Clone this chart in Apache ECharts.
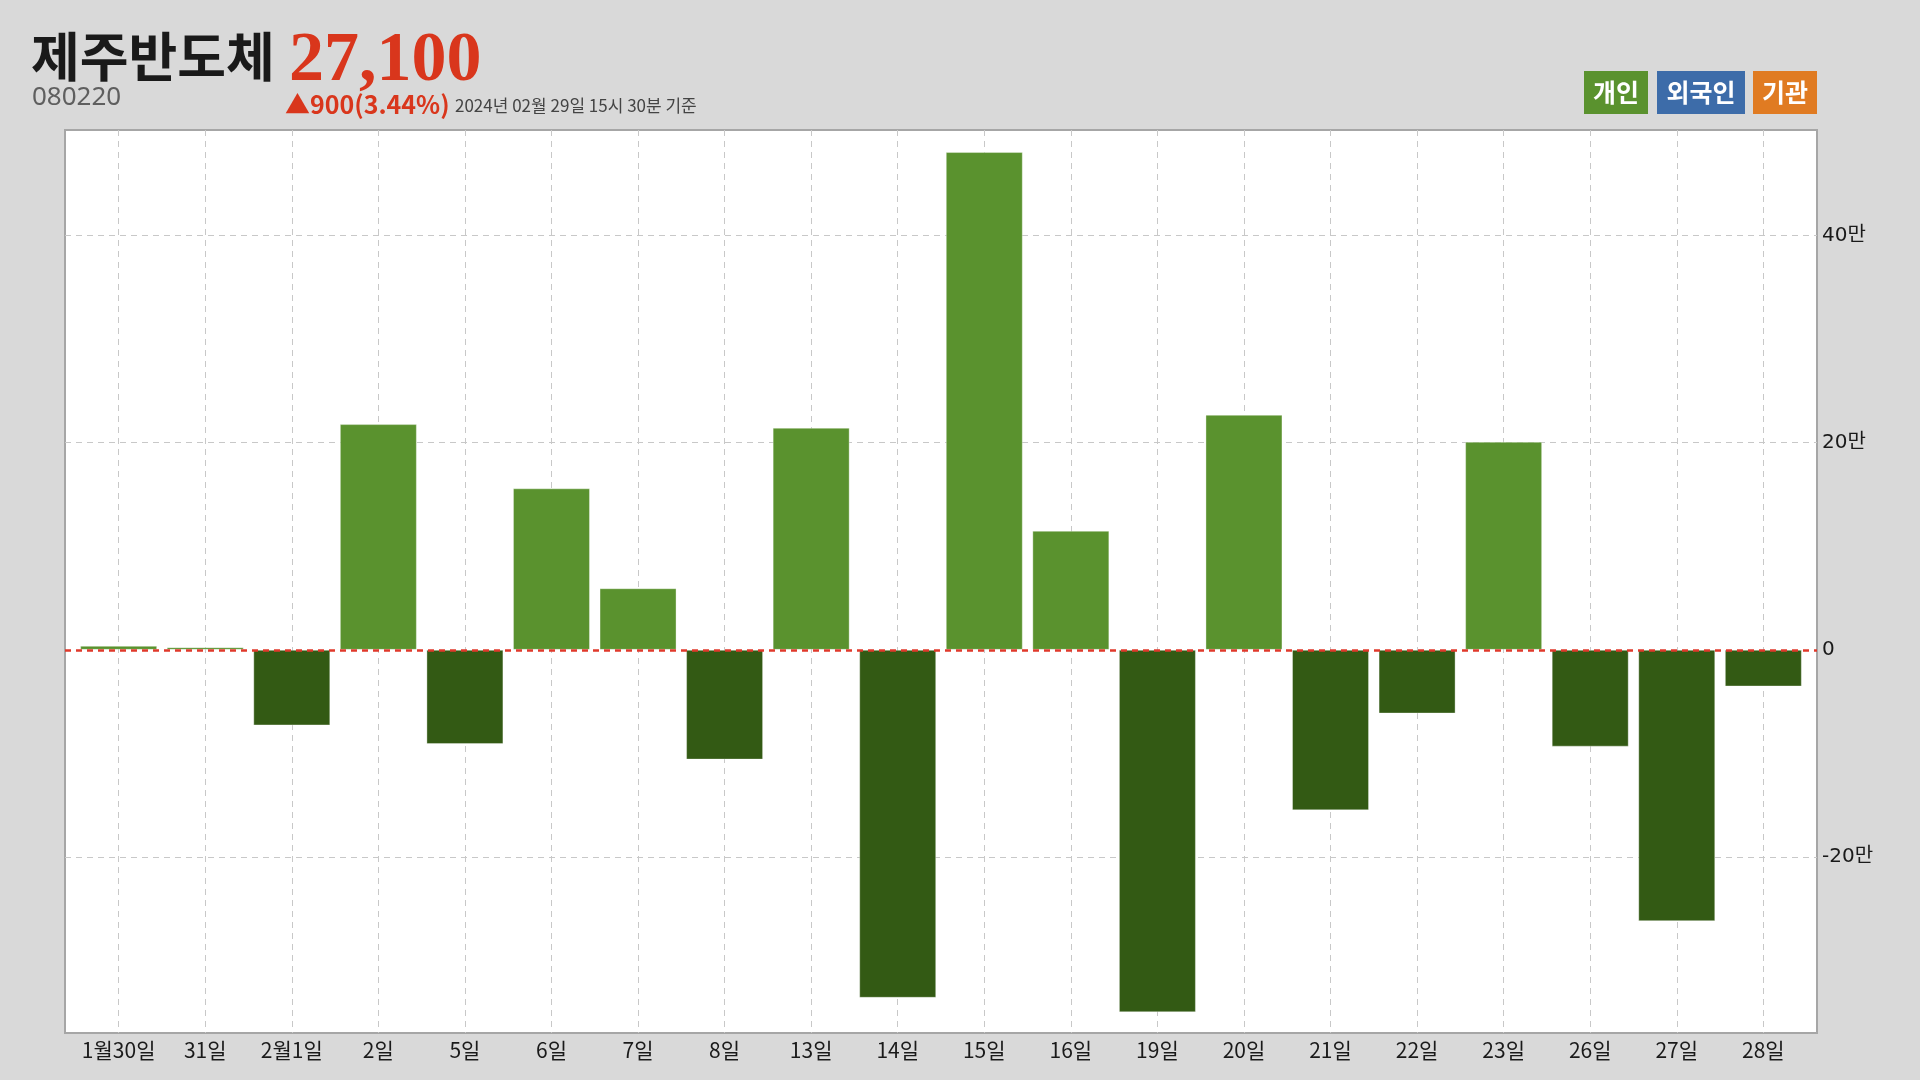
<!DOCTYPE html>
<html>
<head>
<meta charset="utf-8">
<script src="https://cdn.jsdelivr.net/npm/echarts@6/dist/echarts.min.js"></script>
<style>
html,body{margin:0;padding:0;background:#d9d9d9;}
#c{width:1920px;height:1080px;}
</style>
</head>
<body>
<div id="c"></div>
<script>
const categories = ['1월30일','31일','2월1일','2일','5일','6일','7일','8일','13일','14일','15일','16일','19일','20일','21일','22일','23일','26일','27일','28일'];
const individualNet = [3900, 2600, -73000, 218000, -91000, 156000, 59500, -106000, 214500, -336000, 480700, 115000, -350000, 227000, -155000, -61500, 201000, -93500, -262000, -35400];
const yTickValues = [-200000, 0, 200000, 400000];
const legendNames = ['개인', '외국인', '기관'];
const stockName = '제주반도체';
const stockCode = '080220';
const price = '27,100';
const change = '▲900(3.44%)';
const asOf = '2024년 02월 29일 15시 30분 기준';

const POS = '#5a922e', NEG = '#335a14';
const chart = echarts.init(document.getElementById('c'));
const xIdx = categories.map((_, i) => i);

const legendBoxes = [
  {x: 1584, w: 64, color: '#5a922e'},
  {x: 1657, w: 88, color: '#3d6ca9'},
  {x: 1753, w: 64, color: '#e07b22'}
];
const graphics = [
  {type:'text', left: 31, top: 30, style:{text: stockName, font: 'bold 53px "Noto Sans CJK KR"', fill:'#1a1a1a'}},
  {type:'text', left: 32, top: 85, style:{text: stockCode, font: '26px "Noto Sans", "Noto Sans CJK KR"', fill:'#5f5f5f'}},
  {type:'text', left: 289, top: 27, style:{text: price, font: 'bold 70px "Liberation Serif"', fill:'#d9361c'}},
  {type:'text', left: 285, top: 92, style:{text: change, font: 'bold 25px "Noto Sans CJK KR"', fill:'#d9361c'}},
  {type:'text', left: 455, top: 97, style:{text: asOf, font: '17px "Noto Sans CJK KR"', fill:'#444'}}
];
legendBoxes.forEach((b, i) => {
  graphics.push({type:'rect', shape:{x:b.x, y:71, width:b.w, height:43}, style:{fill:b.color}});
  graphics.push({type:'text', x: b.x + b.w/2, y: 92, style:{text: legendNames[i], font:'bold 25px "Noto Sans CJK KR"', fill:'#fff', textAlign:'center', textVerticalAlign:'middle'}});
});

chart.setOption({
  backgroundColor: '#d9d9d9',
  animation: false,
  graphic: graphics,
  grid: {left: 65, right: 103, top: 130, bottom: 47, show: true, backgroundColor: '#fff', borderColor: '#a6a6a6', borderWidth: 2},
  xAxis: {
    type: 'value', min: -0.62, max: 19.62,
    axisLine: {show: false},
    axisTick: {show: false, customValues: xIdx},
    axisLabel: {customValues: xIdx, formatter: v => categories[Math.round(v)], color: '#1a1a1a', fontSize: 21, fontFamily: '"Noto Sans CJK KR"', margin: 7},
    splitLine: {show: true, lineStyle: {color: '#c8c8c8', type: [6, 5], width: 1}}
  },
  yAxis: {
    type: 'value', position: 'right', min: -370000, max: 502000,
    axisLine: {show: false},
    axisTick: {show: false, customValues: yTickValues},
    axisLabel: {customValues: yTickValues, formatter: v => v === 0 ? '0' : (v / 10000) + '만', color: '#1a1a1a', fontSize: 20, fontFamily: '"DejaVu Sans", "Noto Sans CJK KR"', margin: 5},
    splitLine: {show: true, lineStyle: {color: '#c8c8c8', type: [6, 5], width: 1}}
  },
  series: [{
    type: 'bar',
    barWidth: 77,
    data: individualNet.map((v, i) => [i, v]),
    itemStyle: {
      color: p => p.value[1] >= 0 ? POS : NEG,
      borderColor: 'rgba(255,255,255,0.35)', borderWidth: 1
    },
    markLine: {
      silent: true, symbol: 'none', label: {show: false},
      lineStyle: {color: '#e0392b', type: [6, 5], width: 2.5},
      data: [{yAxis: 0}]
    }
  }]
});
</script>
</body>
</html>
